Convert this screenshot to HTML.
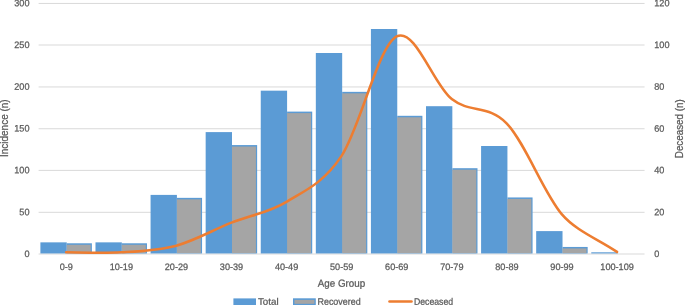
<!DOCTYPE html>
<html><head><meta charset="utf-8"><title>Chart</title>
<style>html,body{margin:0;padding:0;background:#fff;overflow:hidden}svg{display:block}</style></head>
<body>
<svg width="685" height="305" viewBox="0 0 685 305" font-family="'Liberation Sans', sans-serif" fill="#595959" stroke="#595959" stroke-width="0.25">
<rect width="685" height="305" fill="#fff" stroke="none"/>
<g stroke="#D9D9D9" stroke-width="1">
<line x1="38.6" x2="644.55" y1="212.30" y2="212.30"/>
<line x1="38.6" x2="644.55" y1="170.40" y2="170.40"/>
<line x1="38.6" x2="644.55" y1="128.74" y2="128.74"/>
<line x1="38.6" x2="644.55" y1="86.95" y2="86.95"/>
<line x1="38.6" x2="644.55" y1="45.00" y2="45.00"/>
<line x1="38.6" x2="644.55" y1="3.45" y2="3.45"/>
</g>
<line x1="38.6" x2="644.55" y1="254.00" y2="254.00" stroke="#D9D9D9" stroke-width="1"/>
<g stroke="none">
<rect x="40.40" y="242.35" width="26.34" height="11.10" fill="#5B9BD5"/>
<rect x="66.74" y="243.28" width="25.14" height="10.17" fill="#5B9BD5"/>
<rect x="66.74" y="244.78" width="23.94" height="8.37" fill="#A5A5A5"/>
<rect x="95.49" y="242.35" width="26.34" height="11.10" fill="#5B9BD5"/>
<rect x="121.83" y="243.28" width="25.14" height="10.17" fill="#5B9BD5"/>
<rect x="121.83" y="244.78" width="23.94" height="8.37" fill="#A5A5A5"/>
<rect x="150.57" y="194.90" width="26.34" height="58.55" fill="#5B9BD5"/>
<rect x="176.92" y="197.85" width="25.14" height="55.60" fill="#5B9BD5"/>
<rect x="176.92" y="199.35" width="23.94" height="53.80" fill="#A5A5A5"/>
<rect x="205.66" y="132.10" width="26.34" height="121.35" fill="#5B9BD5"/>
<rect x="232.00" y="145.07" width="25.14" height="108.38" fill="#5B9BD5"/>
<rect x="232.00" y="146.57" width="23.94" height="106.58" fill="#A5A5A5"/>
<rect x="260.75" y="90.67" width="26.34" height="162.78" fill="#5B9BD5"/>
<rect x="287.09" y="111.60" width="25.14" height="141.85" fill="#5B9BD5"/>
<rect x="287.09" y="113.10" width="23.94" height="140.05" fill="#A5A5A5"/>
<rect x="315.83" y="53.00" width="26.34" height="200.45" fill="#5B9BD5"/>
<rect x="342.18" y="91.85" width="25.14" height="161.60" fill="#5B9BD5"/>
<rect x="342.18" y="93.35" width="23.94" height="159.80" fill="#A5A5A5"/>
<rect x="370.92" y="29.00" width="26.34" height="224.45" fill="#5B9BD5"/>
<rect x="397.26" y="115.80" width="25.14" height="137.65" fill="#5B9BD5"/>
<rect x="397.26" y="117.30" width="23.94" height="135.85" fill="#A5A5A5"/>
<rect x="426.00" y="106.20" width="26.34" height="147.25" fill="#5B9BD5"/>
<rect x="452.35" y="168.20" width="25.14" height="85.25" fill="#5B9BD5"/>
<rect x="452.35" y="169.70" width="23.94" height="83.45" fill="#A5A5A5"/>
<rect x="481.09" y="146.00" width="26.34" height="107.45" fill="#5B9BD5"/>
<rect x="507.43" y="197.45" width="25.14" height="56.00" fill="#5B9BD5"/>
<rect x="507.43" y="198.95" width="23.94" height="54.20" fill="#A5A5A5"/>
<rect x="536.18" y="231.10" width="26.34" height="22.35" fill="#5B9BD5"/>
<rect x="562.52" y="246.95" width="25.14" height="6.50" fill="#5B9BD5"/>
<rect x="562.52" y="248.45" width="23.94" height="4.70" fill="#A5A5A5"/>
<rect x="591.26" y="252.30" width="26.34" height="1.15" fill="#5B9BD5"/>
</g>
<path d="M66.14,252.33 C75.32,252.33 102.87,253.44 121.23,252.33 C139.59,251.22 157.95,250.59 176.32,245.65 C194.68,240.71 213.04,229.99 231.40,222.68 C249.76,215.37 268.13,212.94 286.49,201.80 C304.85,190.67 323.21,183.43 341.57,155.87 C359.94,128.31 378.30,45.90 396.66,36.44 C415.02,26.97 433.39,84.57 451.75,99.08 C470.11,113.59 488.47,104.30 506.83,123.51 C525.20,142.71 543.56,192.93 561.92,214.33 C576.24,231.02 598.64,239.38 617.01,251.91" fill="none" stroke="#ED7D31" stroke-width="2.55" stroke-linecap="round" stroke-linejoin="round"/>
<text x="29.5" y="256.90" font-size="9.4" text-anchor="end" textLength="5.07" lengthAdjust="spacingAndGlyphs" transform="rotate(0.05 29.5 256.90)">0</text>
<text x="29.5" y="215.20" font-size="9.4" text-anchor="end" textLength="10.14" lengthAdjust="spacingAndGlyphs" transform="rotate(0.05 29.5 215.20)">50</text>
<text x="29.5" y="173.30" font-size="9.4" text-anchor="end" textLength="15.21" lengthAdjust="spacingAndGlyphs" transform="rotate(0.05 29.5 173.30)">100</text>
<text x="29.5" y="131.64" font-size="9.4" text-anchor="end" textLength="15.21" lengthAdjust="spacingAndGlyphs" transform="rotate(0.05 29.5 131.64)">150</text>
<text x="29.5" y="89.85" font-size="9.4" text-anchor="end" textLength="15.21" lengthAdjust="spacingAndGlyphs" transform="rotate(0.05 29.5 89.85)">200</text>
<text x="29.5" y="47.90" font-size="9.4" text-anchor="end" textLength="15.21" lengthAdjust="spacingAndGlyphs" transform="rotate(0.05 29.5 47.90)">250</text>
<text x="29.5" y="6.35" font-size="9.4" text-anchor="end" textLength="15.21" lengthAdjust="spacingAndGlyphs" transform="rotate(0.05 29.5 6.35)">300</text>
<text x="654.3" y="256.90" font-size="9.4" textLength="5.07" lengthAdjust="spacingAndGlyphs" transform="rotate(0.05 654.3 256.90)">0</text>
<text x="654.3" y="215.20" font-size="9.4" textLength="10.14" lengthAdjust="spacingAndGlyphs" transform="rotate(0.05 654.3 215.20)">20</text>
<text x="654.3" y="173.30" font-size="9.4" textLength="10.14" lengthAdjust="spacingAndGlyphs" transform="rotate(0.05 654.3 173.30)">40</text>
<text x="654.3" y="131.64" font-size="9.4" textLength="10.14" lengthAdjust="spacingAndGlyphs" transform="rotate(0.05 654.3 131.64)">60</text>
<text x="654.3" y="89.85" font-size="9.4" textLength="10.14" lengthAdjust="spacingAndGlyphs" transform="rotate(0.05 654.3 89.85)">80</text>
<text x="654.3" y="47.90" font-size="9.4" textLength="15.21" lengthAdjust="spacingAndGlyphs" transform="rotate(0.05 654.3 47.90)">100</text>
<text x="654.3" y="6.35" font-size="9.4" textLength="15.21" lengthAdjust="spacingAndGlyphs" transform="rotate(0.05 654.3 6.35)">120</text>
<text x="66.24" y="270.0" font-size="9.4" text-anchor="middle" textLength="13.20" lengthAdjust="spacingAndGlyphs" transform="rotate(0.05 66.24 270.0)">0-9</text>
<text x="121.33" y="270.0" font-size="9.4" text-anchor="middle" textLength="23.34" lengthAdjust="spacingAndGlyphs" transform="rotate(0.05 121.33 270.0)">10-19</text>
<text x="176.42" y="270.0" font-size="9.4" text-anchor="middle" textLength="23.34" lengthAdjust="spacingAndGlyphs" transform="rotate(0.05 176.42 270.0)">20-29</text>
<text x="231.50" y="270.0" font-size="9.4" text-anchor="middle" textLength="23.34" lengthAdjust="spacingAndGlyphs" transform="rotate(0.05 231.50 270.0)">30-39</text>
<text x="286.59" y="270.0" font-size="9.4" text-anchor="middle" textLength="23.34" lengthAdjust="spacingAndGlyphs" transform="rotate(0.05 286.59 270.0)">40-49</text>
<text x="341.68" y="270.0" font-size="9.4" text-anchor="middle" textLength="23.34" lengthAdjust="spacingAndGlyphs" transform="rotate(0.05 341.68 270.0)">50-59</text>
<text x="396.76" y="270.0" font-size="9.4" text-anchor="middle" textLength="23.34" lengthAdjust="spacingAndGlyphs" transform="rotate(0.05 396.76 270.0)">60-69</text>
<text x="451.85" y="270.0" font-size="9.4" text-anchor="middle" textLength="23.34" lengthAdjust="spacingAndGlyphs" transform="rotate(0.05 451.85 270.0)">70-79</text>
<text x="506.93" y="270.0" font-size="9.4" text-anchor="middle" textLength="23.34" lengthAdjust="spacingAndGlyphs" transform="rotate(0.05 506.93 270.0)">80-89</text>
<text x="562.02" y="270.0" font-size="9.4" text-anchor="middle" textLength="23.34" lengthAdjust="spacingAndGlyphs" transform="rotate(0.05 562.02 270.0)">90-99</text>
<text x="617.11" y="270.0" font-size="9.4" text-anchor="middle" textLength="33.48" lengthAdjust="spacingAndGlyphs" transform="rotate(0.05 617.11 270.0)">100-109</text>
<text x="341.5" y="286.7" font-size="10.3" text-anchor="middle" textLength="47.64" lengthAdjust="spacingAndGlyphs" transform="rotate(0.05 341.5 286.7)">Age Group</text>
<text x="0" y="0" font-size="10.3" text-anchor="middle" textLength="57.80" lengthAdjust="spacingAndGlyphs" transform="translate(7.9,128.2) rotate(-90)">Incidence (n)</text>
<text x="0" y="0" font-size="10.3" text-anchor="middle" textLength="58.82" lengthAdjust="spacingAndGlyphs" transform="translate(683.4,128.75) rotate(-90)">Deceased (n)</text>
<rect x="233.4" y="298.4" width="22.6" height="8" fill="#5B9BD5" stroke="none"/>
<text x="258.0" y="304.7" font-size="9.4" textLength="20.57" lengthAdjust="spacingAndGlyphs" transform="rotate(0.05 258.0 304.7)">Total</text>
<rect x="293.0" y="298.3" width="22.8" height="8" fill="#5B9BD5" stroke="none"/>
<rect x="294.5" y="299.9" width="19.9" height="3.9" fill="#A5A5A5" stroke="none"/>
<text x="317.5" y="304.7" font-size="9.4" textLength="43.13" lengthAdjust="spacingAndGlyphs" transform="rotate(0.05 317.5 304.7)">Recovered</text>
<line x1="389.5" x2="411.5" y1="301.5" y2="301.5" stroke="#ED7D31" stroke-width="2.6" stroke-linecap="round"/>
<text x="413.9" y="304.7" font-size="9.4" textLength="39.27" lengthAdjust="spacingAndGlyphs" transform="rotate(0.05 413.9 304.7)">Deceased</text>
</svg>
</body></html>
